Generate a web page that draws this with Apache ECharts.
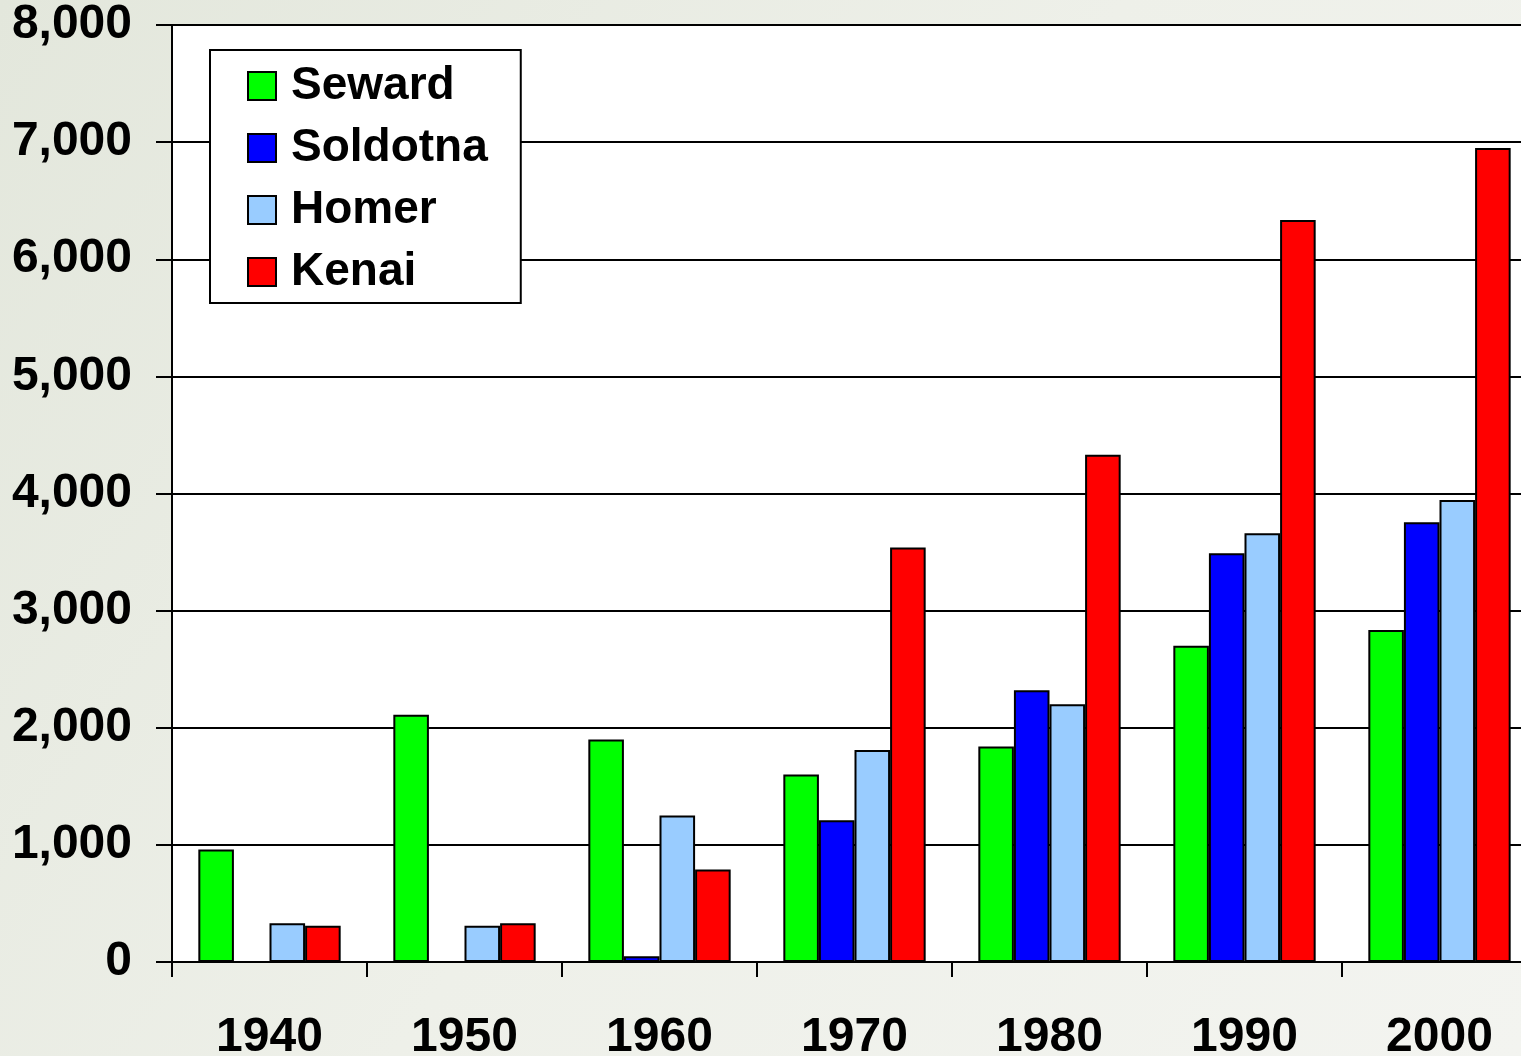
<!DOCTYPE html>
<html>
<head>
<meta charset="utf-8">
<script src="https://cdn.jsdelivr.net/npm/echarts@6/dist/echarts.min.js"></script>
<style>
html,body{margin:0;padding:0;}
#c{width:1521px;height:1056px;}
</style>
</head>
<body>
<div id="c"></div>
<script>
const categories = ['1940','1950','1960','1970','1980','1990','2000'];
const seward   = [960, 2110, 1900, 1600, 1840, 2700, 2835];
const soldotna = [null, null, 50, 1210, 2320, 3490, 3755];
const homer    = [330, 310, 1250, 1810, 2200, 3660, 3945];
const kenai    = [310, 330, 790, 3540, 4330, 6335, 6950];
const seriesNames = ['Seward','Soldotna','Homer','Kenai'];
const seriesColors = ['#00ff00','#0000ff','#99ccff','#ff0000'];
const seriesData = [seward, soldotna, homer, kenai];

const FONT = '"Liberation Sans", Arial, sans-serif';
const chart = echarts.init(document.getElementById('c'));
chart.setOption({
  animation: false,
  backgroundColor: {
    type: 'linear', x: 0, y: 0, x2: 1, y2: 1,
    colorStops: [
      {offset: 0, color: '#e3e7dc'},
      {offset: 0.5, color: '#eef0e9'},
      {offset: 1, color: '#f3f4f0'}
    ]
  },
  grid: {
    left: 172, top: 25, width: 1365, height: 937,
    containLabel: false,
    outerBoundsMode: 'none',
    show: true, backgroundColor: '#ffffff', borderWidth: 0
  },
  legend: {
    orient: 'vertical',
    left: 210, top: 50,
    padding: [13, 33, 8, 37],
    itemGap: 16,
    itemWidth: 28, itemHeight: 28,
    icon: 'rect',
    backgroundColor: '#ffffff',
    borderColor: '#000000',
    borderWidth: 2,
    borderRadius: 0,
    textStyle: {
      fontFamily: FONT, fontWeight: 'bold', fontSize: 46,
      color: '#000', lineHeight: 46, padding: [0, 0, 0, 10]
    },
    data: seriesNames
  },
  xAxis: {
    type: 'category',
    data: categories,
    axisLine: {lineStyle: {color: '#000', width: 2}},
    axisTick: {show: true, length: 15, lineStyle: {color: '#000', width: 2}},
    axisLabel: {
      fontFamily: FONT, fontWeight: 'bold', fontSize: 48, color: '#000',
      margin: 52
    }
  },
  yAxis: {
    type: 'value',
    min: 0, max: 8000, interval: 1000,
    axisLine: {show: true, lineStyle: {color: '#000', width: 2}},
    axisTick: {show: true, length: 16, lineStyle: {color: '#000', width: 2}},
    splitLine: {show: true, lineStyle: {color: '#000', width: 2}},
    axisLabel: {
      fontFamily: FONT, fontWeight: 'bold', fontSize: 48, color: '#000',
      margin: 40, lineHeight: 48, padding: [10, 0, 0, 0],
      formatter: v => v.toLocaleString('en-US')
    }
  },
  series: seriesNames.map((n, i) => ({
    name: n,
    type: 'bar',
    data: seriesData[i],
    barGap: '0%',
    barCategoryGap: '27%',
    itemStyle: {color: seriesColors[i], borderColor: '#000', borderWidth: 2}
  }))
});
</script>
</body>
</html>
